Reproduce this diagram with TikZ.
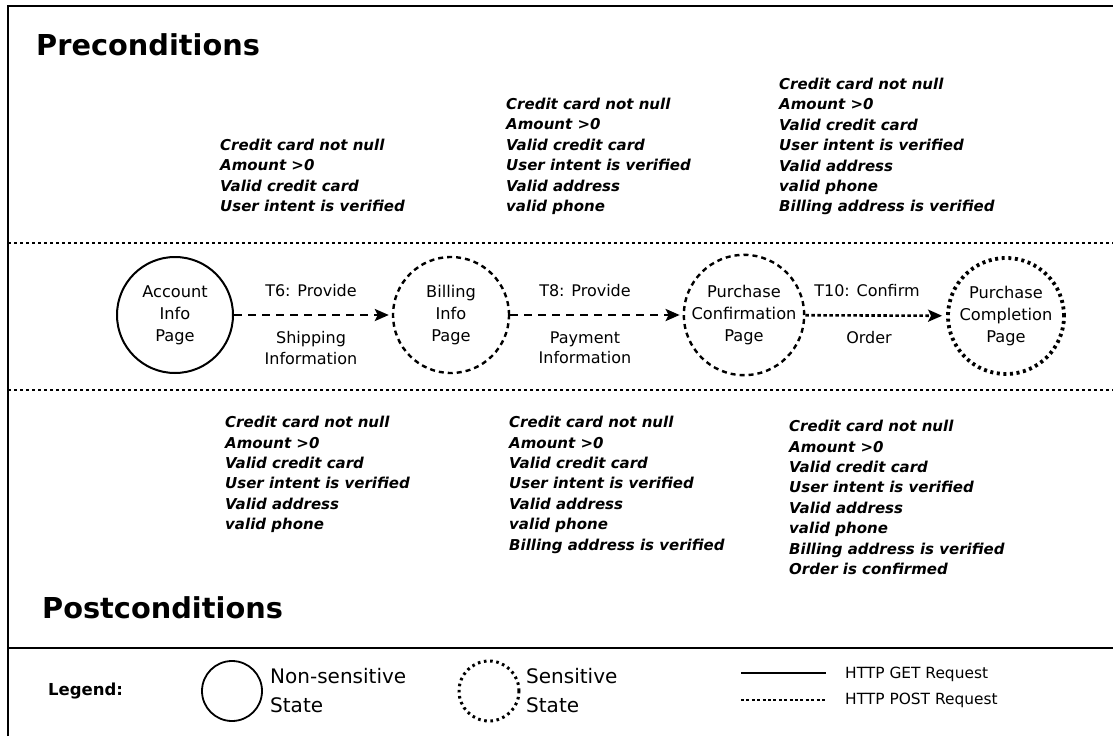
\documentclass[tikz,border=0pt]{standalone}
\usepackage{fontspec}
\setmainfont{DejaVu Sans}
\usetikzlibrary{arrows.meta}

\begin{document}
\begin{tikzpicture}[x=1pt, y=-1pt,
  title/.style={anchor=base west, inner sep=0, font=\fontsize{28.8}{34}\selectfont\bfseries},
  cond/.style={anchor=north west, inner sep=0, align=left,
    font=\fontsize{15}{20.4}\selectfont\bfseries\itshape},
  state/.style={circle, minimum size=116pt, inner sep=0, align=center,
    font=\fontsize{16.2}{21.8}\selectfont},
  plainstate/.style={state, draw, line width=2pt},
  sensstate/.style={state, draw, line width=2.4pt, dash pattern=on 5pt off 4pt},
  finalstate/.style={state, draw, line width=3.8pt, dash pattern=on 3pt off 3.6pt},
  lbl/.style={inner sep=0, font=\fontsize{16}{20.5}\selectfont},
  flow/.style={line width=2.6pt, dash pattern=on 8pt off 6pt,
    -{Stealth[length=14pt, width=12pt, inset=3pt]}, shorten >=3pt},
  dotflow/.style={line width=2.6pt, dash pattern=on 3.5pt off 2.5pt,
    -{Stealth[length=14pt, width=12pt, inset=3pt]}, shorten >=4pt},
  divider/.style={line width=2.5pt, dash pattern=on 3pt off 3pt},
  legtext/.style={anchor=west, inner sep=0, font=\fontsize{20}{29}\selectfont, align=left},
  httptext/.style={anchor=west, inner sep=0, font=\fontsize{15.4}{18}\selectfont}
]
\useasboundingbox (0,0) rectangle (1113,736);
\fill[white] (0,0) rectangle (1113,736);

% frame and section separators
\draw[line width=2pt] (8,736) -- (8,6) -- (1113,6);
\draw[line width=2pt] (8,648) -- (1113,648);
\draw[divider] (8,243) -- (1113,243);
\draw[divider] (8,390) -- (1113,390);

% section titles
\node[title] (pre) at (36,55) {Preconditions};
\node[title] (post) at (42,618) {Postconditions};

% preconditions
\node[cond] (preA) at (220,139) {Credit card not null\\Amount >0\\Valid credit card\\User intent is verified};
\node[cond] (preB) at (506,98) {Credit card not null\\Amount >0\\Valid credit card\\User intent is verified\\Valid address\\valid phone};
\node[cond] (preC) at (779,78) {Credit card not null\\Amount >0\\Valid credit card\\User intent is verified\\Valid address\\valid phone\\Billing address is verified};

% states
\node[plainstate] (acc) at (175,315) {Account\\Info\\Page};
\node[sensstate] (bill) at (451,315) {Billing\\Info\\Page};
\node[sensstate] (conf) at (744,315) {Purchase\\Confirmation\\Page};
\node[finalstate] (done) at (1006,316) {Purchase\\Completion\\Page};

% transitions
\draw[flow] (acc) -- (bill);
\draw[flow] (bill) -- (conf);
\draw[dotflow] (conf) -- (done);

\node[lbl] (t6a) at (311,291) {T6: Provide};
\node[lbl, align=center] (t6b) at (311,348) {Shipping\\Information};
\node[lbl] (t8a) at (585,291) {T8: Provide};
\node[lbl, align=center] (t8b) at (585,348) {Payment\\Information};
\node[lbl] (t10a) at (867,291) {T10: Confirm};
\node[lbl] (t10b) at (869,338) {Order};

% postconditions
\node[cond] (postA) at (225,416) {Credit card not null\\Amount >0\\Valid credit card\\User intent is verified\\Valid address\\valid phone};
\node[cond] (postB) at (509,416) {Credit card not null\\Amount >0\\Valid credit card\\User intent is verified\\Valid address\\valid phone\\Billing address is verified};
\node[cond] (postC) at (789,420) {Credit card not null\\Amount >0\\Valid credit card\\User intent is verified\\Valid address\\valid phone\\Billing address is verified\\Order is confirmed};

% legend
\node[anchor=west, inner sep=0, font=\fontsize{16.5}{20}\selectfont\bfseries] (leg) at (48,691) {Legend:};
\node[circle, draw, line width=1.8pt, minimum size=60pt, inner sep=0] (legA) at (232,691) {};
\node[legtext] (legAt) at (270,691) {Non-sensitive\\State};
\node[circle, draw, line width=3pt, dash pattern=on 2.6pt off 3.6pt, minimum size=60pt, inner sep=0] (legB) at (489,691) {};
\node[legtext] (legBt) at (526,691) {Sensitive\\State};

\coordinate (getA) at (741,673);
\coordinate (getB) at (826,673);
\coordinate (postA0) at (741,700);
\coordinate (postB0) at (826,700);
\draw[line width=1.8pt] (getA) -- (getB);
\draw[line width=1.8pt, dash pattern=on 3pt off 2.4pt] (postA0) -- (postB0);
\node[httptext] (get) at (845,674) {HTTP GET Request};
\node[httptext] (postreq) at (845,700) {HTTP POST Request};
\end{tikzpicture}
\end{document}
